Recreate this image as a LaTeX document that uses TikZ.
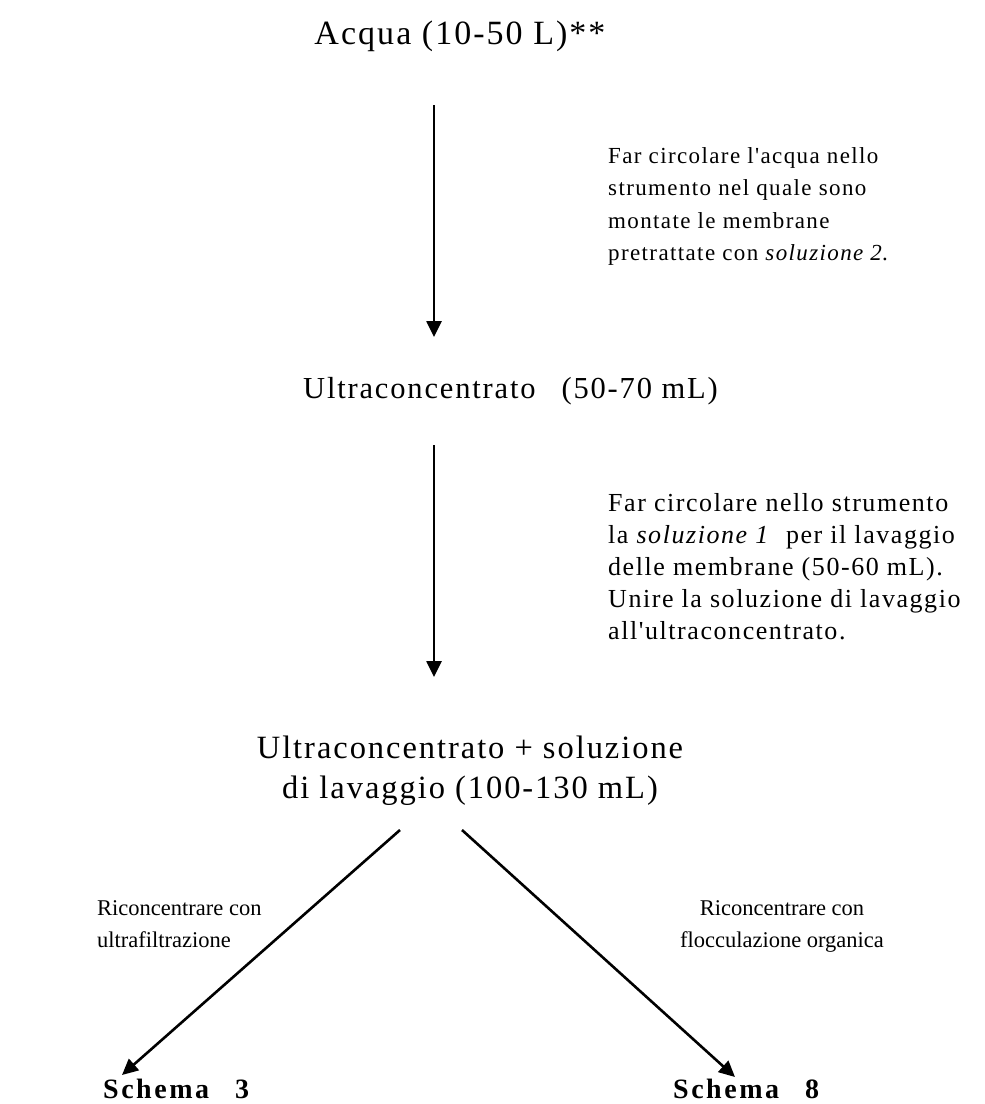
\documentclass[tikz,border=0pt]{standalone}
\usepackage{fontspec}
\setmainfont{Liberation Serif}
\newfontfamily\spacedfont[LetterSpace=6]{Liberation Serif}
\newfontfamily\widefont[LetterSpace=9]{Liberation Serif}
\usetikzlibrary{arrows.meta}
\begin{document}
\begin{tikzpicture}[x=1pt,y=-1pt,
  flow/.style={line width=2.6pt,-{Triangle[length=16pt,width=15pt]}},
  mainlbl/.style={font=\spacedfont\fontsize{32.5}{40}\selectfont, inner sep=0pt, anchor=base},
  notelbl/.style={font=\spacedfont\fontsize{23}{32.5}\selectfont, align=left, inner sep=0pt, anchor=north west},
  notelblb/.style={font=\spacedfont\fontsize{26}{32}\selectfont, align=left, inner sep=0pt, anchor=north west},
  sidelbl/.style={font=\fontsize{22.5}{29}\selectfont, inner sep=0pt, anchor=base},
  targetlbl/.style={font=\widefont\bfseries\fontsize{28}{32}\selectfont, inner sep=0pt, anchor=base west}]
\useasboundingbox (0,0) rectangle (985,1104);

% main products
\node[mainlbl, font=\spacedfont\fontsize{34}{40}\selectfont] (acqua) at (460,44) {Acqua (10-50 L)**};
\node[mainlbl, anchor=base west, font=\spacedfont\fontsize{30.5}{40}\selectfont] (ultra) at (303,398) {Ultraconcentrato\hspace{26pt}(50-70 mL)};
\node[mainlbl] (mixa) at (470,758) {Ultraconcentrato + soluzione};
\node[mainlbl] (mixb) at (470,798) {di lavaggio (100-130 mL)};

% procedure notes
\node[notelbl] (note1) at (608,147) {Far circolare l'acqua nello\\strumento nel quale sono\\montate le membrane\\pretrattate con \textit{soluzione 2}.};
\node[notelblb] (note2) at (608,493) {Far circolare nello strumento\\la \textit{soluzione 1} \ per il lavaggio\\delle membrane (50-60 mL).\\Unire la soluzione di lavaggio\\all'ultraconcentrato.};

% branch labels
\node[sidelbl, anchor=base west] (left1) at (97,915) {Riconcentrare con};
\node[sidelbl, anchor=base west] (left2) at (97,947) {ultrafiltrazione};
\node[sidelbl] (right1) at (782,915) {Riconcentrare con};
\node[sidelbl] (right2) at (782,947) {flocculazione organica};

% targets
\node[targetlbl] (schema3) at (103,1098) {Schema\hspace{26pt}3};
\node[targetlbl] (schema8) at (673,1098) {Schema\hspace{26pt}8};

% arrow end points
\coordinate (a1s) at (434,105);
\coordinate (a1e) at (434,337);
\coordinate (a2s) at (434,445);
\coordinate (a2e) at (434,677);
\coordinate (l1s) at (400,830);
\coordinate (l1e) at (122,1075);
\coordinate (r1s) at (462,830);
\coordinate (r1e) at (735,1077);

\draw[flow] (a1s) -- (a1e);
\draw[flow] (a2s) -- (a2e);
\draw[flow] (l1s) -- (l1e);
\draw[flow] (r1s) -- (r1e);
\end{tikzpicture}
\end{document}
